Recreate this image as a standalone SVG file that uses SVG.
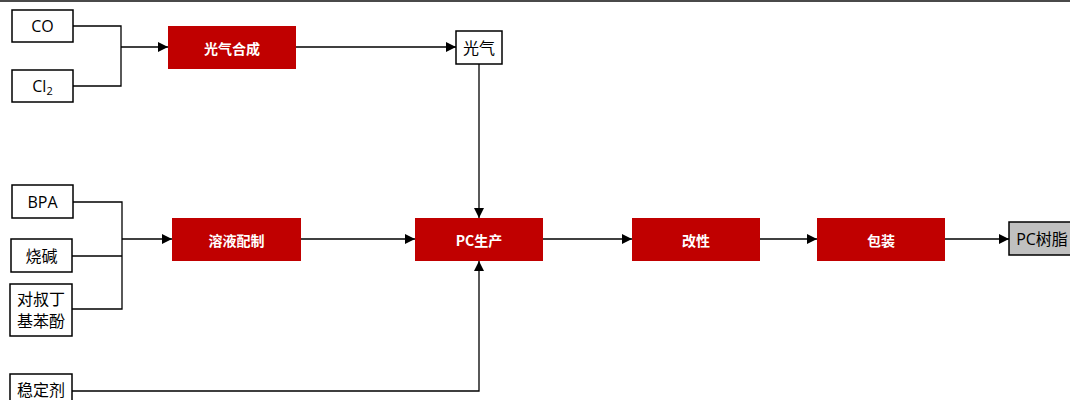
<svg xmlns="http://www.w3.org/2000/svg" width="1070" height="400" viewBox="0 0 1070 400">
<style>
.in{fill:#fff;stroke:#000;stroke-width:1.5}
.out{fill:#c0c0c0;stroke:#000;stroke-width:1.5}
.red{fill:#c00000}
.t{font-family:"Open Sans","Noto Sans CJK SC",sans-serif;font-size:16px;fill:#000;text-anchor:middle;dominant-baseline:central}
.w{font-family:"Noto Sans CJK SC",sans-serif;font-size:14px;font-weight:bold;fill:#fff;text-anchor:middle;dominant-baseline:central}
.c{fill:none;stroke:#000;stroke-width:1.3}
</style>
<defs>
<marker id="ah" viewBox="0 0 10 10" refX="10" refY="5" markerWidth="10" markerHeight="10" markerUnits="userSpaceOnUse" orient="auto">
<path d="M0,0 L10,5 L0,10 Z" fill="#000"/>
</marker>
</defs>
<rect x="0" y="0" width="1070" height="2" fill="#4a4a4a"/>
<g id="connectors">
<path class="c" d="M73,26 H121 V86 H73"/>
<path class="c" d="M121,47 H168" marker-end="url(#ah)"/>
<path class="c" d="M296,47 H456" marker-end="url(#ah)"/>
<path class="c" d="M479,64 V218" marker-end="url(#ah)"/>
<path class="c" d="M73,202 H122 V309 H72"/>
<path class="c" d="M72,256 H122"/>
<path class="c" d="M122,239 H172" marker-end="url(#ah)"/>
<path class="c" d="M301,239 H415" marker-end="url(#ah)"/>
<path class="c" d="M72,391 H479 V261" marker-end="url(#ah)"/>
<path class="c" d="M543,239 H632" marker-end="url(#ah)"/>
<path class="c" d="M760,239 H817" marker-end="url(#ah)"/>
<path class="c" d="M945,239 H1009" marker-end="url(#ah)"/>
</g>
<g id="co"><rect class="in" x="12" y="10" width="61" height="32"/><text class="t" x="42.5" y="26">CO</text></g>
<g id="cl2"><rect class="in" x="12" y="70" width="61" height="32"/><text class="t" x="42.5" y="86">Cl<tspan font-size="11" dy="4">2</tspan></text></g>
<g id="phosgene-synth"><rect class="red" x="168" y="26" width="128" height="43"/><text class="w" x="232" y="47.5">光气合成</text></g>
<g id="phosgene"><rect class="in" x="456" y="31" width="46" height="33"/><text class="t" x="479" y="47.5">光气</text></g>
<g id="bpa"><rect class="in" x="12" y="185" width="61" height="33"/><text class="t" x="42.5" y="201.5">BPA</text></g>
<g id="naoh"><rect class="in" x="11" y="239" width="61" height="33"/><text class="t" x="41.5" y="255.5">烧碱</text></g>
<g id="ptbp"><rect class="in" x="10" y="284" width="62" height="52"/><text class="t" x="41" y="299">对叔丁</text><text class="t" x="41" y="321">基苯酚</text></g>
<g id="stabilizer"><rect class="in" x="10" y="374" width="62" height="34"/><text class="t" x="41" y="390">稳定剂</text></g>
<g id="solution"><rect class="red" x="172" y="218" width="129" height="43"/><text class="w" x="236.5" y="239.5">溶液配制</text></g>
<g id="pc-prod"><rect class="red" x="415" y="218" width="128" height="43"/><text class="w" x="479" y="239.5">PC生产</text></g>
<g id="modify"><rect class="red" x="632" y="218" width="128" height="43"/><text class="w" x="696" y="239.5">改性</text></g>
<g id="pack"><rect class="red" x="817" y="218" width="128" height="43"/><text class="w" x="881" y="239.5">包装</text></g>
<g id="pc-resin"><rect class="out" x="1009" y="222" width="66" height="33"/><text class="t" x="1042" y="238.5">PC树脂</text></g>
</svg>
